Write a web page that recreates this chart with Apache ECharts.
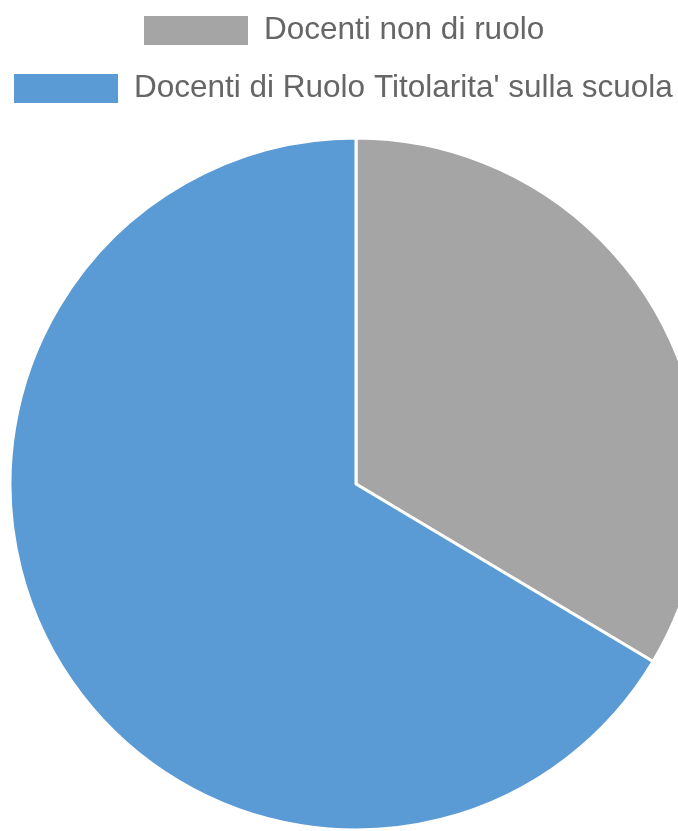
<!DOCTYPE html>
<html>
<head>
<meta charset="utf-8">
<script src="https://cdn.jsdelivr.net/npm/echarts@6/dist/echarts.min.js"></script>
<style>
html,body{margin:0;padding:0;background:#fff;}
#chart{width:678px;height:831px;}
</style>
</head>
<body>
<div id="chart"></div>
<script>
const categories = ["Docenti non di ruolo", "Docenti di Ruolo Titolarita' sulla scuola"];
const values = [47, 93];
const colors = ['#A5A5A5', '#5B9BD5'];

const chart = echarts.init(document.getElementById('chart'), null, {renderer: 'canvas'});
const data = categories.map((c, i) => ({name: c, value: values[i], itemStyle: {color: colors[i]}}));

const legendBase = {
  orient: 'horizontal',
  padding: 0,
  itemWidth: 106,
  itemHeight: 31,
  icon: 'rect',
  textStyle: {fontFamily: 'Liberation Sans, Arial, sans-serif', fontSize: 31.5, color: '#666666', padding: [0, 0, 0, 10]},
  selectedMode: false
};

chart.setOption({
  animation: false,
  legend: [
    Object.assign({}, legendBase, {data: [categories[0]], left: 142, top: 14}),
    Object.assign({}, legendBase, {data: [categories[1]], left: 12, top: 72})
  ],
  series: [{
    type: 'pie',
    center: [356, 484],
    radius: [0, 346],
    startAngle: 90,
    clockwise: true,
    label: {show: false},
    labelLine: {show: false},
    emphasis: {disabled: true},
    itemStyle: {borderColor: '#ffffff', borderWidth: 3},
    data: data
  }]
});
</script>
</body>
</html>
